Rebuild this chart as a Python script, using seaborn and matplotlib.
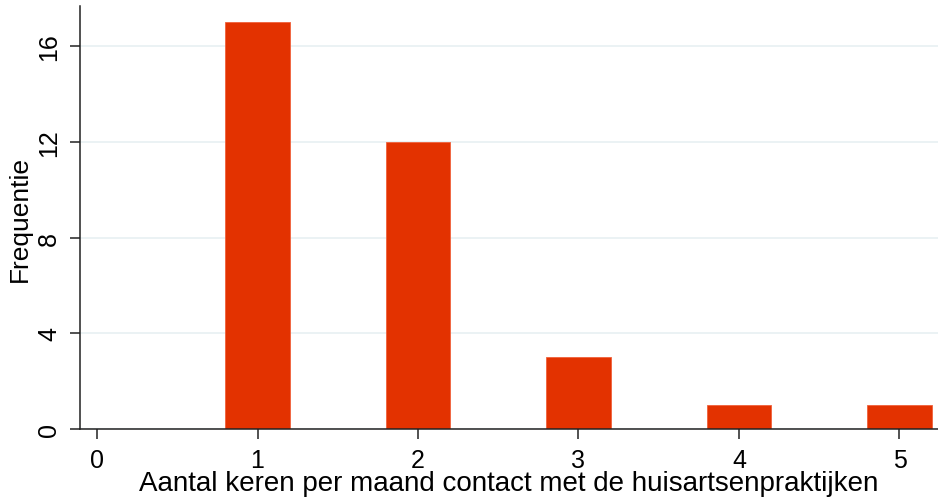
import numpy as np
import pandas as pd
import matplotlib
matplotlib.use("Agg")
import matplotlib.pyplot as plt
import seaborn as sns

# aantal contacten per maand en frequentie
keren = [1, 2, 3, 4, 5]
frequentie = [17, 12, 3, 1, 1]
xticks = [0, 1, 2, 3, 4, 5]
yticks = [0, 4, 8, 12, 16]

df = pd.DataFrame({"keren": keren, "frequentie": frequentie})

sns.set_style("white")
plt.rcParams["font.family"] = ["Liberation Sans", "DejaVu Sans"]
plt.rcParams["text.color"] = "black"
plt.rcParams["axes.labelcolor"] = "black"
plt.rcParams["xtick.color"] = "black"
plt.rcParams["ytick.color"] = "black"

fig = plt.figure(figsize=(9.38, 5.02), dpi=100)
ax = fig.add_axes([0.0853, 0.1434, 0.9147, 0.8426])

sns.barplot(data=df, x="keren", y="frequentie", native_scale=True, width=0.4,
            color="#E33200", saturation=1, edgecolor="#F0603A", linewidth=0.6, ax=ax)

ax.set_xlim(-0.106, 5.24)
ax.set_ylim(0, 17.67)
ax.set_xticks(xticks)
ax.set_yticks(yticks)
ax.set_yticklabels([str(v) for v in yticks], rotation=90, va="center")
ax.tick_params(axis="both", labelsize=18, length=7.5, width=1.1, color="#222222",
               direction="out", bottom=True, left=True)
ax.tick_params(axis="x", pad=6)
ax.tick_params(axis="y", pad=6)
ax.yaxis.grid(True, color="#E8F0F2", linewidth=1.2)
ax.set_axisbelow(True)

for s in ["top", "right"]:
    ax.spines[s].set_visible(False)
for s in ["left", "bottom"]:
    ax.spines[s].set_color("#222222")
    ax.spines[s].set_linewidth(1.1)

ax.set_xlabel("Aantal keren per maand contact met de huisartsenpraktijken", fontsize=20, labelpad=-1)
ax.set_ylabel("Frequentie", fontsize=19, labelpad=4)

fig.savefig("out.png", dpi=100)
